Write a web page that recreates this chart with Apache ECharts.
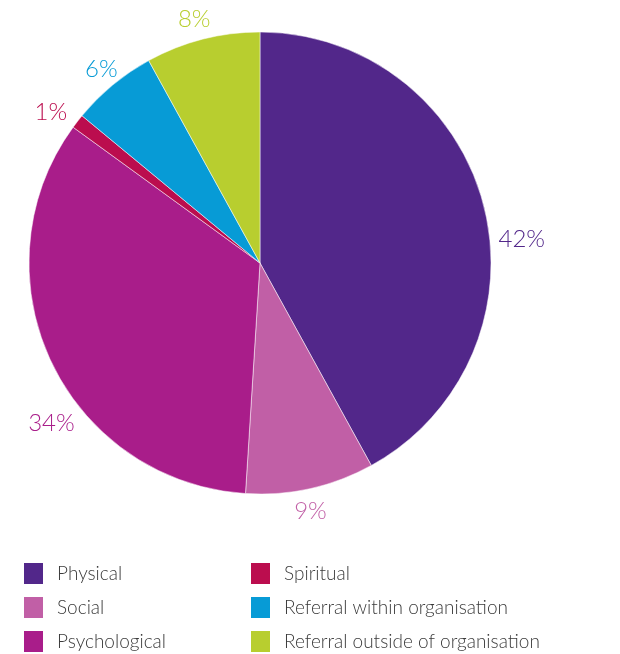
<!DOCTYPE html>
<html>
<head>
<meta charset="utf-8">
<script src="https://cdn.jsdelivr.net/npm/echarts@6/dist/echarts.min.js"></script>
<style>
  html, body { margin: 0; padding: 0; background: #fff; }
  #main { width: 620px; height: 654px; }
</style>
</head>
<body>
<div id="main"></div>
<script>
var categories = ['Physical', 'Social', 'Psychological', 'Spiritual', 'Referral within organisation', 'Referral outside of organisation'];
var values = [42, 9, 34, 1, 6, 8];
var colors = ['#52278a', '#c15fa6', '#a91d8a', '#bb0d4e', '#079bd6', '#b8ce2f'];
// label nudges to match the original layout
var labelOffsets = [[7, 36], [-18, 15], [31, 59], [-4, -4], [10, -10], [10, -12]];

var chart = echarts.init(document.getElementById('main'));

var pieData = categories.map(function (name, i) {
  return {
    name: name,
    value: values[i],
    itemStyle: { color: colors[i] },
    label: { color: colors[i], offset: labelOffsets[i] }
  };
});

var legendText = { fontFamily: 'Lato', fontWeight: 300, fontSize: 19, lineHeight: 22, color: '#3a3a3a', padding: [0, 0, 0, 8] };

function makeLegend(names, left) {
  return {
    data: names,
    orient: 'vertical',
    left: left,
    top: 556,
    height: 120,
    padding: 5,
    icon: 'rect',
    itemWidth: 21,
    itemHeight: 23,
    itemGap: 9,
    textStyle: legendText,
    selectedMode: false
  };
}

var option = {
  animation: false,
  legend: [
    makeLegend(categories.slice(0, 3), 17),
    makeLegend(categories.slice(3), 244)
  ],
  series: [
    {
      type: 'pie',
      center: [260, 263],
      radius: 231,
      startAngle: 90,
      clockwise: true,
      avoidLabelOverlap: false,
      itemStyle: { borderColor: '#fff', borderWidth: 0.5 },
      label: {
        show: true,
        position: 'outside',
        formatter: '{c}%',
        fontFamily: 'Lato',
        fontWeight: 300,
        fontSize: 24,
        distanceToLabelLine: 0
      },
      labelLine: { show: false, length: 8, length2: 0 },
      data: pieData
    }
  ]
};

chart.setOption(option);
</script>
</body>
</html>
